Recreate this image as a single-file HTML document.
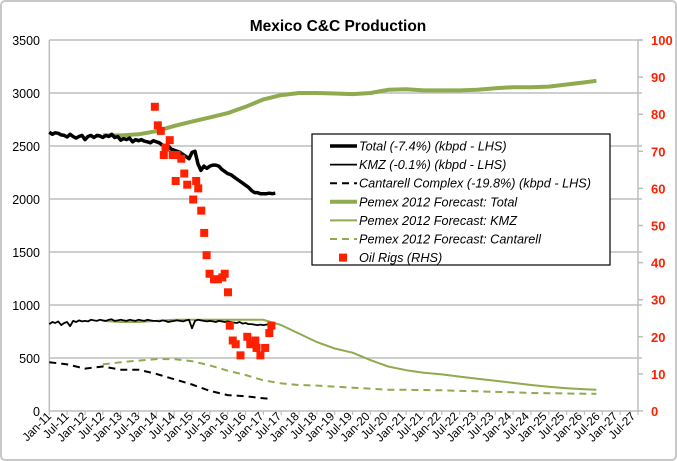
<!DOCTYPE html>
<html><head><meta charset="utf-8"><style>
body{margin:0;background:#fff;}
svg{display:block;font-family:"Liberation Sans",sans-serif;}
</style></head><body>
<svg id="chart" width="677" height="461">
<rect x="1" y="1" width="675" height="459" rx="4" fill="#fff" stroke="#c8c8c8" stroke-width="2"/>
<text x="338" y="31" text-anchor="middle" font-size="15.5" font-weight="bold" fill="#000">Mexico C&amp;C Production</text>
<g id="grid"></g><g id="axes"></g><g id="series"></g><g id="legend"></g>
</svg>
<script>
// ---- data ----
const xLabels = ["Jan-11","Jul-11","Jan-12","Jul-12","Jan-13","Jul-13","Jan-14","Jul-14","Jan-15","Jul-15","Jan-16","Jul-16","Jan-17","Jul-17","Jan-18","Jul-18","Jan-19","Jul-19","Jan-20","Jul-20","Jan-21","Jul-21","Jan-22","Jul-22","Jan-23","Jul-23","Jan-24","Jul-24","Jan-25","Jul-25","Jan-26","Jul-26","Jan-27","Jul-27"];
const leftTicks = [0,500,1000,1500,2000,2500,3000,3500];
const rightTicks = [0,10,20,30,40,50,60,70,80,90,100];
// monthly actuals from Jan-11
const totalActual = [2630,2610,2625,2620,2605,2600,2585,2610,2590,2575,2590,2600,
 2560,2590,2600,2580,2600,2595,2580,2600,2590,2610,2580,2590,
 2555,2570,2560,2575,2540,2560,2550,2560,2545,2540,2530,2550,
 2540,2530,2510,2490,2500,2470,2460,2450,2440,2420,2400,2380,
 2440,2450,2330,2270,2310,2290,2310,2320,2320,2310,2280,2260,
 2240,2230,2210,2190,2170,2150,2130,2110,2080,2060,2060,2050,
 2050,2050,2055,2050,2055];
const kmzActual = [820,840,830,845,810,830,840,800,850,840,855,845,
 850,845,860,855,850,860,855,850,860,865,850,855,
 860,855,850,860,855,850,860,855,850,860,855,850,
 850,845,855,850,840,845,850,855,850,845,855,860,
 780,850,860,855,850,845,850,845,840,850,845,840,
 845,840,835,830,840,825,830,820,820,815,810,815,
 810,815,820,815,810];
// semi-annual (months since Jan-11)
const cantMonths = [0,6,12,18,24,30,36,42,48,54,60,66,72,74];
const cantActual = [460,440,400,420,390,390,350,300,250,190,150,140,120,115];
const fcMonths = [18,24,30,36,42,48,54,60,66,72,78,84,90,96,102,108,114,120,126,132,138,144,150,156,162,168,174,180,184];
const fcTotal = [2600,2600,2610,2640,2690,2730,2770,2810,2870,2940,2980,3000,3000,2995,2990,3000,3030,3035,3025,3025,3025,3030,3045,3055,3055,3060,3080,3100,3115];
const fcKmz = [850,840,840,850,860,860,860,860,860,860,810,730,650,590,550,480,420,385,360,345,325,305,285,265,245,228,215,205,200];
const fcCant = [440,460,475,490,490,470,430,380,340,290,260,245,240,230,220,210,200,200,198,195,190,186,180,176,170,168,165,163,162];
const rigMonths = [35.5,36.5,37.5,40.5,39.1,38.5,41.5,42.8,44.4,45.4,42.5,46.4,49.4,50.1,48.4,51.1,52.1,52.9,53.9,55.4,56.7,58.2,59.0,60.1,60.7,61.7,62.7,64.3,66.6,67.6,69.3,69.7,71.0,72.6,74.0,74.7];
const rigCounts = [82,77,75.5,73,71,69,69,69,68,64,62,61,62,60,57,54,48,42,37,35.5,35.5,36,37,32,23,19,18,15,20,18,19,17,15,17,21,23];

// ---- scales ----
const X0=49.3, X1=638, Y0=411, Y1=40;
const xm = m => X0 + m*(X1-X0)/198;
const yl = v => Y0 - v*(Y0-Y1)/3500;
const yr = v => Y0 - v*(Y0-Y1)/100;
const NS="http://www.w3.org/2000/svg";
function mk(tag, attrs, parent){const e=document.createElementNS(NS,tag);for(const k in attrs)e.setAttribute(k,attrs[k]);parent.appendChild(e);return e;}
const grid=document.getElementById('grid'), axes=document.getElementById('axes'), series=document.getElementById('series'), legend=document.getElementById('legend');

leftTicks.forEach(t=>{
  if(t>0){const g=mk('line',{x1:X0,x2:X1+4,y1:yl(t),y2:yl(t),stroke:'#bdbdbd','stroke-width':1.5},grid);
  
  }
  const l=mk('text',{x:40,y:yl(t)+5,'text-anchor':'end','font-size':12.5,fill:'#000'},axes);
  l.textContent=t;
  
  
});
rightTicks.forEach(t=>{
  const tk=mk('line',{x1:X1,x2:X1+5,y1:yr(t),y2:yr(t),stroke:'#bdbdbd','stroke-width':1.5},axes);
  
  
  const l=mk('text',{x:651,y:yr(t)+5,'font-size':13,'font-weight':'bold',fill:'#ff2000'},axes);
  l.textContent=t;
  
  
});
let a=mk('line',{x1:X0,x2:X0,y1:Y1,y2:Y0,stroke:'#bdbdbd','stroke-width':1.5},axes);

a=mk('line',{x1:X1,x2:X1,y1:Y1,y2:Y0,stroke:'#bdbdbd','stroke-width':1.5},axes);

a=mk('line',{x1:X0,x2:X1,y1:Y0,y2:Y0,stroke:'#bdbdbd','stroke-width':1.5},axes);

for(let k=0;k<=33;k++){const tx=X0+k*(X1-X0)/33;
  const t=mk('line',{x1:tx,x2:tx,y1:Y0,y2:Y0+4,stroke:'#bdbdbd','stroke-width':1.2},axes);
  
  }
xLabels.forEach((lab,k)=>{const tx=52+k*(584/33);
  const l=mk('text',{x:tx,y:417,'text-anchor':'end','font-size':11.8,fill:'#000',transform:`rotate(-45 ${tx} 417)`},axes);
  l.textContent=lab;
  
  });

function poly(ms, vs, style, name){
  const d=ms.map((m,i)=>(i?'L':'M')+xm(m).toFixed(1)+' '+yl(vs[i]).toFixed(1)).join(' ');
  const p=mk('path',Object.assign({d:d,fill:'none','stroke-linejoin':'round'},style),series);
  
  
}
const months=n=>Array.from({length:n},(_,i)=>i);
poly(fcMonths,fcTotal,{stroke:'#8faa4f','stroke-width':4},'pemex-forecast-total-line');
poly(fcMonths,fcKmz,{stroke:'#8faa4f','stroke-width':2},'pemex-forecast-kmz-line');
poly(fcMonths,fcCant,{stroke:'#8faa4f','stroke-width':2,'stroke-dasharray':'7 5'},'pemex-forecast-cantarell-line');
poly(months(totalActual.length),totalActual,{stroke:'#000','stroke-width':3.5},'total-production-line');
poly(months(kmzActual.length),kmzActual,{stroke:'#000','stroke-width':1.8},'kmz-production-line');
poly(cantMonths,cantActual,{stroke:'#000','stroke-width':2,'stroke-dasharray':'7 5'},'cantarell-production-line');
rigMonths.forEach((m,i)=>{
  const r=mk('rect',{x:xm(m)-4,y:yr(rigCounts[i])-4,width:8,height:8,fill:'#ff2000'},series);
  
  
});

// legend
const lb=mk('rect',{x:312,y:134,width:298,height:131,fill:'#fff',stroke:'#000','stroke-width':1.2},legend);

const entries=[["Total (-7.4%) (kbpd - LHS)",'#000',3.5,null],["KMZ (-0.1%) (kbpd - LHS)",'#000',1.8,null],["Cantarell Complex (-19.8%) (kbpd - LHS)",'#000',2,'7 5'],["Pemex 2012 Forecast: Total",'#8faa4f',4,null],["Pemex 2012 Forecast: KMZ",'#8faa4f',2,null],["Pemex 2012 Forecast: Cantarell",'#8faa4f',2,'7 5'],["Oil Rigs (RHS)",'#ff2000',0,null]];
entries.forEach((e,i)=>{const y=146+i*18.6;
  if(e[2]>0){const ln=mk('line',{x1:330,x2:357,y1:y,y2:y,stroke:e[1],'stroke-width':e[2]},legend);
    if(e[3])ln.setAttribute('stroke-dasharray',e[3]);
    
    }
  else{const r=mk('rect',{x:339,y:y-4,width:8,height:8,fill:'#ff2000'},legend);
    
    }
  const t=mk('text',{x:359,y:y+4.5,'font-size':12.7,'font-style':'italic',fill:'#000'},legend);
  t.textContent=e[0];
  
  
});
</script>
</body></html>
